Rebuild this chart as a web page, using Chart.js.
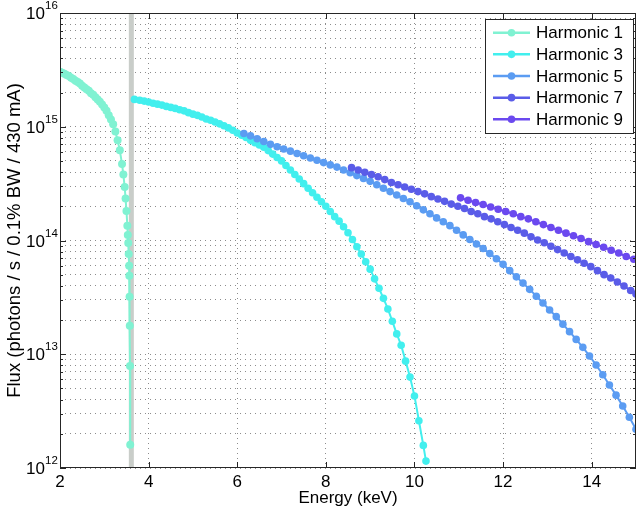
<!DOCTYPE html>
<html>
<head>
<meta charset="utf-8">
<title>Undulator tuning curves</title>
<script src="https://cdn.jsdelivr.net/npm/chart.js@4.4.1/dist/chart.umd.min.js"></script>
<style>
  html, body { margin: 0; padding: 0; background: #fff; }
  #wrap { width: 640px; height: 513px; }
</style>
</head>
<body>
<div id="wrap"><canvas id="flux-chart" width="640" height="513"></canvas></div>
<script>
/* ---------- Data ---------- */
const seriesLabels = ['Harmonic 1', 'Harmonic 3', 'Harmonic 5', 'Harmonic 7', 'Harmonic 9'];

const h1Energy = [2.00, 2.05, 2.10, 2.15, 2.20, 2.25, 2.30, 2.35, 2.40, 2.45, 2.50, 2.55, 2.60, 2.65,
  2.70, 2.75, 2.80, 2.85, 2.90, 2.95, 3.00, 3.05, 3.10, 3.15, 3.20, 3.25, 3.30, 3.35, 3.40, 3.43,
  3.46, 3.48, 3.50, 3.52, 3.53, 3.54, 3.55, 3.56, 3.565, 3.57, 3.575, 3.58, 3.585];
const h1Flux = [3.05e15, 2.99e15, 2.92e15, 2.85e15, 2.79e15, 2.69e15, 2.63e15, 2.54e15, 2.48e15, 2.40e15,
  2.29e15, 2.21e15, 2.14e15, 2.07e15, 1.97e15, 1.91e15, 1.82e15, 1.74e15, 1.66e15, 1.57e15, 1.48e15,
  1.38e15, 1.26e15, 1.16e15, 1.05e15, 9.1e14, 7.6e14, 6.2e14, 4.7e14, 3.8e14, 2.95e14, 2.34e14,
  1.82e14, 1.35e14, 1.12e14, 9.5e13, 7.6e13, 6.0e13, 4.9e13, 3.2e13, 1.78e13, 7.9e12, 1.6e12];

const h3Energy = [3.68, 3.8, 3.9, 4.0, 4.1, 4.2, 4.3, 4.4, 4.5, 4.6, 4.7, 4.8, 4.9, 5.0, 5.1, 5.2, 5.3,
  5.4, 5.5, 5.6, 5.7, 5.8, 5.9, 6.0, 6.1, 6.2, 6.3, 6.4, 6.5, 6.6, 6.7, 6.8, 6.9, 7.0, 7.1, 7.2, 7.3,
  7.4, 7.5, 7.6, 7.7, 7.8, 7.9, 8.0, 8.1, 8.2, 8.3, 8.4, 8.5, 8.6, 8.7, 8.8, 8.9, 9.0, 9.1, 9.2, 9.3,
  9.4, 9.5, 9.6, 9.7, 9.8, 9.9, 10.0, 10.1, 10.2, 10.26];
const h3Flux = [1.74e15, 1.71e15, 1.68e15, 1.65e15, 1.61e15, 1.58e15, 1.55e15, 1.51e15, 1.48e15, 1.45e15,
  1.41e15, 1.38e15, 1.33e15, 1.29e15, 1.26e15, 1.22e15, 1.17e15, 1.14e15, 1.10e15, 1.06e15, 1.02e15,
  9.77e14, 9.33e14, 8.81e14, 8.41e14, 8.04e14, 7.59e14, 7.24e14, 6.92e14, 6.61e14, 6.17e14, 5.75e14,
  5.37e14, 5.01e14, 4.57e14, 4.17e14, 3.80e14, 3.47e14, 3.16e14, 2.88e14, 2.63e14, 2.40e14, 2.19e14,
  2.00e14, 1.80e14, 1.62e14, 1.48e14, 1.32e14, 1.17e14, 1.02e14, 8.8e13, 7.6e13, 6.5e13, 5.6e13,
  4.6e13, 3.8e13, 3.1e13, 2.5e13, 1.95e13, 1.51e13, 1.20e13, 8.7e12, 6.3e12, 4.3e12, 2.6e12, 1.58e12,
  1.15e12];

const h5Energy = [6.15, 6.30, 6.45, 6.60, 6.75, 6.90, 7.05, 7.20, 7.35, 7.50, 7.65, 7.80, 7.95, 8.10,
  8.25, 8.40, 8.55, 8.70, 8.85, 9.00, 9.15, 9.30, 9.45, 9.60, 9.75, 9.90, 10.05, 10.20, 10.35, 10.50,
  10.65, 10.80, 10.95, 11.10, 11.25, 11.40, 11.55, 11.70, 11.85, 12.00, 12.15, 12.30, 12.45, 12.60,
  12.75, 12.90, 13.05, 13.20, 13.35, 13.50, 13.65, 13.80, 13.95, 14.10, 14.25, 14.40, 14.55, 14.70,
  14.85, 15.00];
const h5Flux = [8.71e14, 8.32e14, 7.85e14, 7.41e14, 7.00e14, 6.68e14, 6.38e14, 6.10e14, 5.82e14, 5.56e14,
  5.31e14, 5.07e14, 4.84e14, 4.62e14, 4.42e14, 4.17e14, 3.94e14, 3.72e14, 3.51e14, 3.31e14, 3.09e14,
  2.88e14, 2.69e14, 2.51e14, 2.34e14, 2.19e14, 2.02e14, 1.86e14, 1.72e14, 1.58e14, 1.46e14, 1.35e14,
  1.23e14, 1.12e14, 1.02e14, 9.33e13, 8.51e13, 7.67e13, 6.92e13, 6.17e13, 5.43e13, 4.79e13, 4.22e13,
  3.72e13, 3.24e13, 2.82e13, 2.45e13, 2.14e13, 1.84e13, 1.58e13, 1.35e13, 1.15e13, 9.66e12, 8.04e12,
  6.61e12, 5.37e12, 4.37e12, 3.51e12, 2.79e12, 2.19e12];

const h7Energy = [8.58, 8.73, 8.88, 9.03, 9.18, 9.33, 9.48, 9.63, 9.78, 9.93, 10.08, 10.23, 10.38, 10.53,
  10.68, 10.83, 10.98, 11.13, 11.28, 11.43, 11.58, 11.73, 11.88, 12.03, 12.18, 12.33, 12.48, 12.63,
  12.78, 12.93, 13.08, 13.23, 13.38, 13.53, 13.68, 13.83, 13.98, 14.13, 14.28, 14.43, 14.58, 14.73,
  14.88, 15.00];
const h7Flux = [4.37e14, 4.17e14, 3.98e14, 3.80e14, 3.63e14, 3.43e14, 3.24e14, 3.09e14, 2.95e14, 2.82e14,
  2.69e14, 2.57e14, 2.43e14, 2.32e14, 2.21e14, 2.09e14, 2.00e14, 1.91e14, 1.80e14, 1.72e14, 1.62e14,
  1.55e14, 1.46e14, 1.38e14, 1.30e14, 1.23e14, 1.16e14, 1.08e14, 1.01e14, 9.55e13, 8.91e13, 8.32e13,
  7.76e13, 7.24e13, 6.76e13, 6.31e13, 5.89e13, 5.43e13, 5.01e13, 4.68e13, 4.32e13, 3.98e13, 3.63e13,
  3.39e13];

const h9Energy = [11.04, 11.21, 11.38, 11.55, 11.72, 11.89, 12.06, 12.23, 12.40, 12.57, 12.74, 12.91,
  13.08, 13.25, 13.42, 13.59, 13.76, 13.93, 14.10, 14.27, 14.44, 14.61, 14.78, 14.95];
const h9Flux = [2.37e14, 2.26e14, 2.16e14, 2.07e14, 1.97e14, 1.88e14, 1.80e14, 1.72e14, 1.62e14, 1.55e14,
  1.46e14, 1.38e14, 1.30e14, 1.23e14, 1.16e14, 1.10e14, 1.04e14, 9.77e13, 9.23e13, 8.71e13, 8.22e13,
  7.76e13, 7.24e13, 6.84e13];

// vertical marker line (first harmonic cut-off)
const cutoffEnergy = 3.61;

const xTickValues = [2, 4, 6, 8, 10, 12, 14];
const yDecades = [12, 13, 14, 15, 16];

/* ---------- Styles ---------- */
const seriesColors = ['#80f2d2', '#42efee', '#5b9cf2', '#5a5ce8', '#6b49ef'];
const FONT = "'Liberation Sans', Arial, Helvetica, sans-serif";
const AXIS_COLOR = '#262626';

// every grid value on the log axis: 1..9 x 10^n plus the top decade
const yGridValues = [];
yDecades.slice(0, -1).forEach(e => {
  for (let k = 1; k <= 9; k++) yGridValues.push(k * Math.pow(10, e));
});
yGridValues.push(Math.pow(10, yDecades[yDecades.length - 1]));

function toPoints(xs, ys) {
  return xs.map((x, i) => ({ x, y: ys[i] }));
}

const seriesData = [
  toPoints(h1Energy, h1Flux),
  toPoints(h3Energy, h3Flux),
  toPoints(h5Energy, h5Flux),
  toPoints(h7Energy, h7Flux),
  toPoints(h9Energy, h9Flux),
];

const datasets = seriesData.map((data, i) => ({
  label: seriesLabels[i],
  data,
  borderColor: seriesColors[i],
  backgroundColor: seriesColors[i],
  pointBackgroundColor: seriesColors[i],
  pointBorderWidth: 0,
  pointRadius: i === 0 ? 4 : 3.8,
  borderWidth: 2,
  tension: 0,
  clip: 0,
  order: 10 - i,
}));

datasets.push({
  label: 'cutoff',
  data: [{ x: cutoffEnergy, y: 1e12 }, { x: cutoffEnergy, y: 1e16 }],
  borderColor: '#c9cdc9',
  borderWidth: 5,
  pointRadius: 0,
  clip: 0,
  order: 20,
});

/* ---------- MATLAB-style axes decorations ---------- */
const matlabAxes = {
  id: 'matlabAxes',
  afterDraw(chart) {
    const { ctx, chartArea: a, scales: { x, y } } = chart;
    ctx.save();
    ctx.strokeStyle = AXIS_COLOR;
    ctx.lineWidth = 1;

    const seg = (x1, y1, x2, y2) => {
      ctx.beginPath(); ctx.moveTo(x1, y1); ctx.lineTo(x2, y2); ctx.stroke();
    };

    // inward tick marks
    xTickValues.forEach(v => {
      const px = Math.round(x.getPixelForValue(v)) + 0.5;
      seg(px, a.bottom, px, a.bottom - 6);
      seg(px, a.top, px, a.top + 6);
    });
    yGridValues.forEach(v => {
      const py = Math.round(y.getPixelForValue(v)) + 0.5;
      const len = Number.isInteger(Math.log10(v)) ? 6 : 3;
      seg(a.left, py, a.left + len, py);
      seg(a.right, py, a.right - len, py);
    });

    // box
    ctx.strokeRect(a.left + 0.5, a.top + 0.5, a.right - a.left - 1, a.bottom - a.top - 1);

    // y tick labels as 10^n
    ctx.fillStyle = '#000';
    ctx.textBaseline = 'alphabetic';
    yDecades.forEach(e => {
      const py = y.getPixelForValue(Math.pow(10, e));
      ctx.font = '17px ' + FONT;
      ctx.textAlign = 'right';
      ctx.fillText('10', 45, py + 6);
      ctx.font = '11.5px ' + FONT;
      ctx.textAlign = 'left';
      ctx.fillText(String(e), 45, py - 4);
    });

    // legend box
    const lx = 485.5, ly = 19.5, lw = 148, lh = 114;
    ctx.fillStyle = '#fff';
    ctx.fillRect(lx, ly, lw, lh);
    ctx.strokeRect(lx, ly, lw, lh);
    ctx.font = '17px ' + FONT;
    ctx.textAlign = 'left';
    ctx.textBaseline = 'middle';
    seriesLabels.forEach((label, i) => {
      const ry = 32.7 + i * 21.65;
      ctx.strokeStyle = seriesColors[i];
      ctx.lineWidth = 2.5;
      seg(493, ry, 530, ry);
      ctx.fillStyle = seriesColors[i];
      ctx.beginPath();
      ctx.arc(511.5, ry, 3.8, 0, Math.PI * 2);
      ctx.fill();
      ctx.fillStyle = '#000';
      ctx.fillText(label, 536, ry + 1);
    });

    ctx.restore();
  },
};

/* ---------- Chart ---------- */
new Chart(document.getElementById('flux-chart'), {
  type: 'line',
  data: { datasets },
  plugins: [matlabAxes],
  options: {
    responsive: false,
    animation: false,
    devicePixelRatio: 1,
    layout: { padding: { top: 13, right: 1, left: 0, bottom: 0 } },
    plugins: { legend: { display: false }, tooltip: { enabled: false } },
    scales: {
      x: {
        type: 'linear',
        min: 2,
        max: 15,
        afterBuildTicks(scale) { scale.ticks = xTickValues.map(v => ({ value: v })); },
        afterFit(scale) { scale.height = 45; },
        grid: { color: '#8c8c8c', drawTicks: false },
        border: { display: false, dash: [1, 4] },
        ticks: { font: { family: FONT, size: 17 }, color: '#000', padding: 4, maxRotation: 0 },
        title: { display: true, text: 'Energy (keV)', font: { family: FONT, size: 17 }, color: '#000', padding: { top: 0, bottom: 4 } },
      },
      y: {
        type: 'logarithmic',
        min: 1e12,
        max: 1e16,
        afterBuildTicks(scale) { scale.ticks = yGridValues.map(v => ({ value: v })); },
        afterFit(scale) { scale.width = 60; },
        grid: { color: '#8c8c8c', drawTicks: false },
        border: { display: false, dash: [1, 4] },
        ticks: { display: false, autoSkip: false },
        title: { display: true, text: 'Flux (photons / s / 0.1% BW / 430 mA)', font: { family: FONT, size: 18.5 }, color: '#000', padding: { top: 4, bottom: 0 } },
      },
    },
  },
});
</script>
</body>
</html>
